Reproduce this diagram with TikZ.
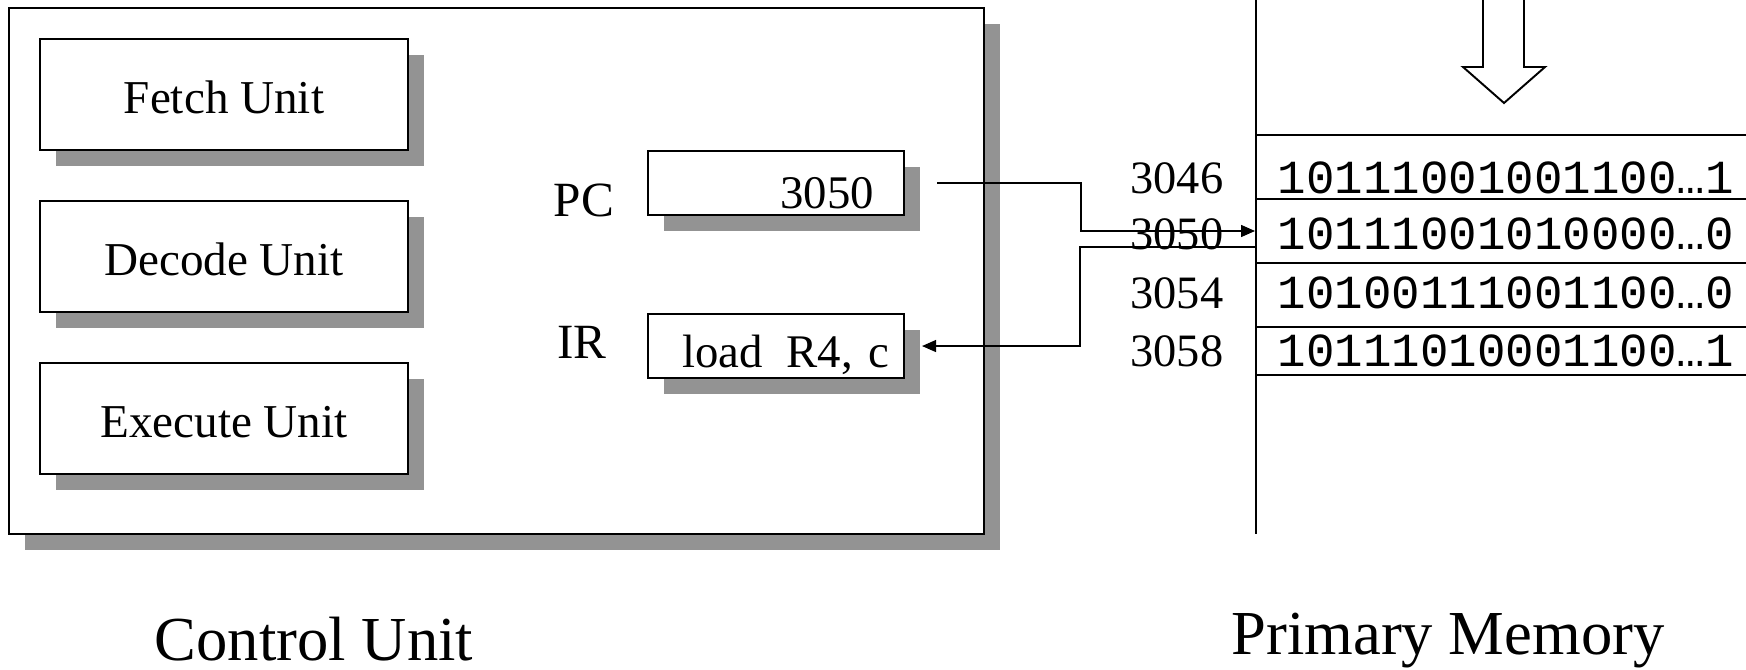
\documentclass[tikz,border=0pt]{standalone}
\usepackage{fontspec}
\setmainfont{Liberation Serif}
\newfontfamily\memfont{Liberation Mono}
\usepackage{tikz}
\usepackage{xcolor}
\usetikzlibrary{arrows.meta,positioning,shadows}
\definecolor{shadowgray}{RGB}{147,147,147}

\begin{document}
\begin{tikzpicture}[
  x=0.01cm, y=-0.01cm,
  boxshadow/.style={general shadow={fill=shadowgray, shadow xshift=0.16cm, shadow yshift=-0.16cm}},
  framebox/.style={draw, line width=0.55pt, fill=white, boxshadow, minimum width=9.75cm, minimum height=5.26cm},
  unitbox/.style={draw, line width=0.55pt, fill=white, boxshadow, minimum width=3.68cm, minimum height=1.11cm, text height=0.38cm, text depth=0pt, font=\fontsize{13.4}{16}\selectfont},
  regbox/.style={draw, line width=0.55pt, fill=white, boxshadow, minimum height=0.64cm, inner ysep=0.05cm, align=right, text height=0.5cm, text depth=0pt, font=\fontsize{13.3}{16}\selectfont},
  reglabel/.style={inner sep=0pt, font=\fontsize{14}{17}\selectfont},
  addr/.style={inner sep=0pt, font=\fontsize{13.2}{16}\selectfont},
  cell/.style={inner sep=0pt, font=\memfont\fontsize{13.5}{16}\selectfont},
  title/.style={inner sep=0pt, font=\fontsize{17.8}{21}\selectfont},
  memline/.style={line width=0.55pt},
  arrow/.style={-{Triangle[length=0.14cm, width=0.12cm]}, line width=0.4pt}
]
\useasboundingbox (0,0) rectangle (1746,670);

\node[framebox] (cu) at (496.5,271) {};
\node[unitbox] (fetch) at (224,94.5) {Fetch Unit};
\node[unitbox, below=0.49cm of fetch] (decode) {Decode Unit};
\node[unitbox, below=0.49cm of decode] (execute) {Execute Unit};

\node[regbox, text width=1.96cm, inner xsep=0.3cm] (pc) at (776,183) {3050};
\node[regbox, text width=2.26cm, inner xsep=0.15cm, text height=0.42cm, inner ysep=0.09cm, below=0.97cm of pc] (ir) {load\hspace{0.5em}R4, c};
\node[reglabel, anchor=base] (pclabel) at (584,216) {PC};
\node[reglabel, anchor=base] (irlabel) at (582,358) {IR};

\draw[memline] (1256,-5) -- (1256,534);
\foreach \y in {135,199,263,327,375}
  \draw[memline] (1256,\y) -- (1750,\y);
\draw[memline] (1483,-5) -- (1483,67) -- (1463,67) -- (1504,103) -- (1545,67) -- (1524,67) -- (1524,-5);

\foreach \a/\bits/\yb in {3046/10111001001100…1/193, 3050/10111001010000…0/249, 3054/10100111001100…0/308, 3058/10111010001100…1/366} {
  \node[addr, anchor=base east] (a\a) at (1224,\yb) {\a};
  \node[cell, anchor=base west] (m\a) at (1277,\yb) {\bits};
}

\coordinate (memin) at (1255,231);
\coordinate (memout) at (1256,247);
\draw[arrow] ([xshift=0.32cm]pc.east) -- ++(144,0) |- (memin);
\draw[arrow] (memout) -- ++(-176,0) |- ([xshift=0.17cm]ir.east);

\node[title, anchor=base] (cutitle) at (314,660) {Control Unit};
\node[title, anchor=base] (pmtitle) at (1448,654) {Primary Memory};
\end{tikzpicture}
\end{document}
